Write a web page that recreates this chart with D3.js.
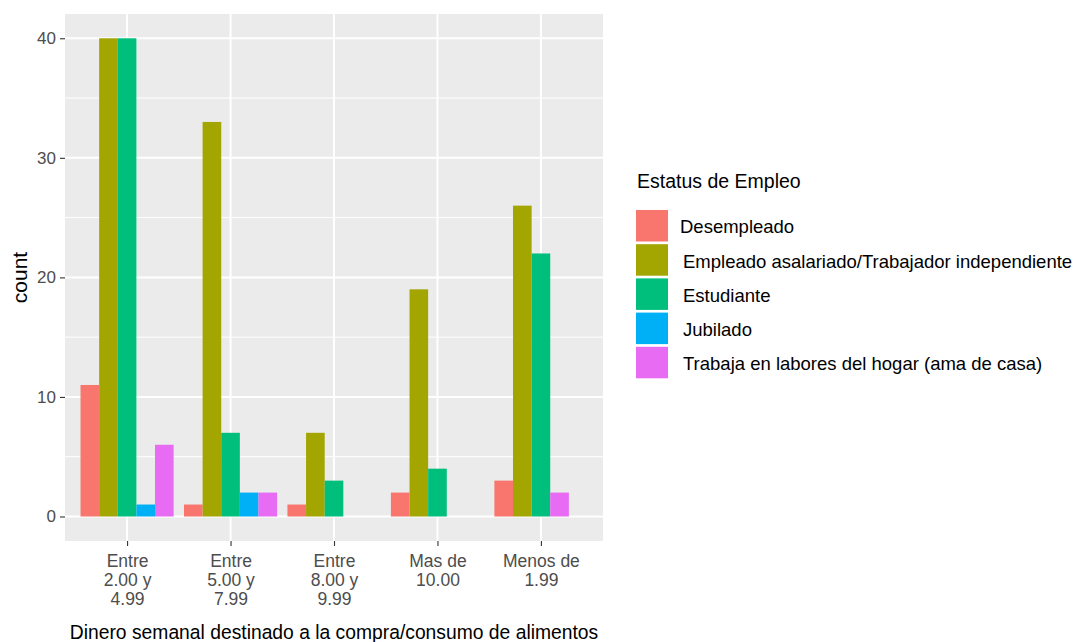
<!DOCTYPE html>
<html>
<head>
<meta charset="utf-8">
<script src="https://cdn.jsdelivr.net/npm/d3@7"></script>
<style>
  html, body { margin: 0; padding: 0; background: #fff; }
  svg { display: block; font-family: "Liberation Sans", Arial, sans-serif; }
</style>
</head>
<body>
<svg id="chart" width="1075" height="642"></svg>
<script>
// ---- Data ----
const categories = ["Entre\n2.00 y\n4.99", "Entre\n5.00 y\n7.99", "Entre\n8.00 y\n9.99", "Mas de\n10.00", "Menos de\n1.99"];
const seriesNames = ["Desempleado", "Empleado asalariado/Trabajador independiente", "Estudiante", "Jubilado", "Trabaja en labores del hogar (ama de casa)"];
const desempleado = [11, 1, 1, 2, 3];
const empleado    = [40, 33, 7, 19, 26];
const estudiante  = [40, 7, 3, 4, 22];
const jubilado    = [1, 2, 0, 0, 0];
const trabaja     = [6, 2, 0, 0, 2];
const seriesValues = [desempleado, empleado, estudiante, jubilado, trabaja];
const yTicks = [0, 10, 20, 30, 40];
const yMinor = [5, 15, 25, 35];
const colors = ["#F8766D", "#A3A500", "#00BF7D", "#00B0F6", "#E76BF3"];
const xTitle = "Dinero semanal destinado a la compra/consumo de alimentos";
const yTitle = "count";
const legendTitle = "Estatus de Empleo";

// ---- Layout ----
const svg = d3.select("#chart");
const panel = { left: 65, right: 603, top: 14, bottom: 541 };

const x = d3.scaleLinear()
  .domain([0.4, categories.length + 0.6])
  .range([panel.left, panel.right]);
const y = d3.scaleLinear().domain([-2.05, 42.03]).range([panel.bottom, panel.top]);

svg.append("rect")
  .attr("x", panel.left).attr("y", panel.top)
  .attr("width", panel.right - panel.left).attr("height", panel.bottom - panel.top)
  .attr("fill", "#EBEBEB");

const grid = svg.append("g");
grid.selectAll(".minor").data(yMinor).join("line")
  .attr("x1", panel.left).attr("x2", panel.right)
  .attr("y1", d => y(d)).attr("y2", d => y(d))
  .attr("stroke", "#fff").attr("stroke-width", 1);
grid.selectAll(".majorY").data(yTicks).join("line")
  .attr("x1", panel.left).attr("x2", panel.right)
  .attr("y1", d => y(d)).attr("y2", d => y(d))
  .attr("stroke", "#fff").attr("stroke-width", 2);
grid.selectAll(".majorX").data(categories).join("line")
  .attr("x1", (d, i) => x(i + 1)).attr("x2", (d, i) => x(i + 1))
  .attr("y1", panel.top).attr("y2", panel.bottom)
  .attr("stroke", "#fff").attr("stroke-width", 2);

// bars: dodge with n slots, present bars renumbered per category
const nSlots = seriesNames.length;
const groupW = 0.9;
const barW = groupW / nSlots;
const bars = [];
categories.forEach((c, ci) => {
  let slot = 0;
  seriesValues.forEach((vals, si) => {
    const v = vals[ci];
    if (v > 0) {
      bars.push({ ci, si, v, slot });
      slot++;
    }
  });
});
svg.append("g").selectAll("rect").data(bars).join("rect")
  .attr("x", d => x(d.ci + 1 - groupW / 2 + d.slot * barW))
  .attr("width", d => x(d.ci + 1 - groupW / 2 + (d.slot + 1) * barW) - x(d.ci + 1 - groupW / 2 + d.slot * barW))
  .attr("y", d => y(d.v))
  .attr("height", d => y(0) - y(d.v))
  .attr("fill", d => colors[d.si]);

// y axis
const yAxis = svg.append("g").attr("transform", `translate(${panel.left},0)`)
  .call(d3.axisLeft(y).tickValues(yTicks).tickSize(5).tickPadding(4).tickFormat(d3.format("d")));
yAxis.select(".domain").remove();
yAxis.selectAll(".tick line").attr("stroke", "#333").attr("stroke-width", 1.1);
yAxis.selectAll(".tick text").attr("fill", "#4D4D4D").attr("font-size", "17px")
  .attr("font-family", "Liberation Sans, Arial, sans-serif");

// x axis
const xAxis = svg.append("g").attr("transform", `translate(0,${panel.bottom})`)
  .call(d3.axisBottom(x).tickValues(categories.map((c, i) => i + 1)).tickSize(5).tickFormat(""));
xAxis.select(".domain").remove();
xAxis.selectAll(".tick line").attr("stroke", "#333").attr("stroke-width", 1.1);
xAxis.selectAll(".tick").each(function (d) {
  const lines = categories[d - 1].split("\n");
  const t = d3.select(this).append("text")
    .attr("fill", "#4D4D4D").attr("font-size", "17.5px")
    .attr("text-anchor", "middle")
    .attr("font-family", "Liberation Sans, Arial, sans-serif");
  lines.forEach((l, k) => {
    t.append("tspan").attr("x", 0).attr("y", 25.5 + k * 19.2).text(l);
  });
});

// axis titles
svg.append("text")
  .attr("x", (panel.left + panel.right) / 2).attr("y", 639)
  .attr("text-anchor", "middle").attr("font-size", "19.3px").attr("fill", "#000")
  .text(xTitle);
svg.append("text")
  .attr("transform", `translate(27,${(panel.top + panel.bottom) / 2}) rotate(-90)`)
  .attr("text-anchor", "middle").attr("font-size", "21px").attr("fill", "#000")
  .text(yTitle);

// legend
const lg = svg.append("g").attr("transform", "translate(636,0)");
lg.append("text").attr("x", 1).attr("y", 188).attr("font-size", "19.5px").attr("fill", "#000").text(legendTitle);
const keyTop = 210, keyPitch = 34.2;
lg.selectAll("rect.key").data(seriesNames).join("rect")
  .attr("x", 0).attr("y", (d, i) => keyTop + i * keyPitch)
  .attr("width", 32).attr("height", 31.5)
  .attr("fill", (d, i) => colors[i]);
lg.selectAll("text.lbl").data(seriesNames).join("text")
  .attr("x", (d, i) => i === 0 ? 44 : 47)
  .attr("y", (d, i) => keyTop + i * keyPitch + 17)
  .attr("dy", "0.35em")
  .attr("font-size", "18.5px").attr("fill", "#000")
  .text(d => d);
</script>
</body>
</html>
